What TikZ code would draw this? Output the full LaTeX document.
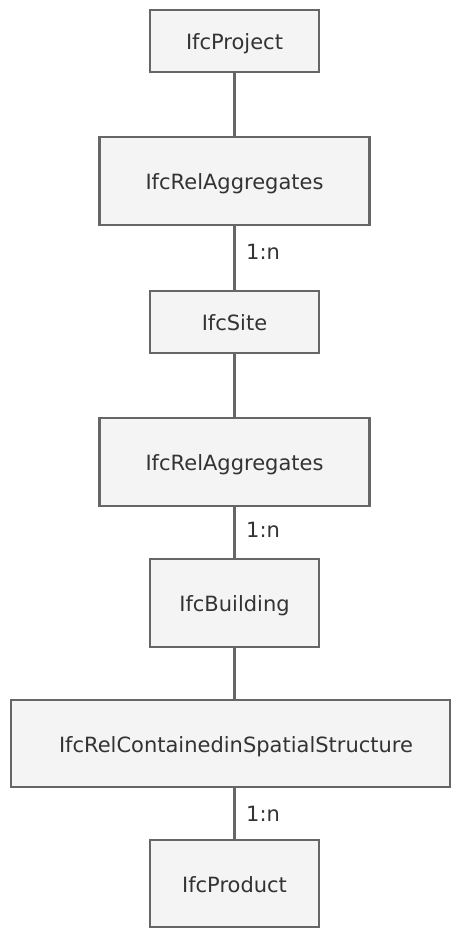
\documentclass[tikz,border=0pt]{standalone}
\usepackage{fontspec}
\setmainfont{DejaVu Sans}
\definecolor{boxfill}{HTML}{F4F4F4}
\definecolor{boxline}{HTML}{666666}
\definecolor{txt}{HTML}{333333}
\begin{document}
\begin{tikzpicture}[x=1pt,y=-1pt,
  entity/.style={draw=boxline,fill=boxfill,line width=2.6pt,inner sep=0pt,
    text height=17.3pt,text depth=0pt,
    text=txt,font=\fontsize{21}{24}\selectfont},
  link/.style={draw=boxline,line width=2.6pt},
  card/.style={anchor=west,inner sep=0pt,text=txt,font=\fontsize{21}{24}\selectfont}]
  \useasboundingbox (0,0) rectangle (452,928);
  \fill[white] (0,0) rectangle (452,928);

  \node[entity,minimum width=169pt,minimum height=62pt] (project) at (234.5,41) {IfcProject};
  \node[entity,minimum width=270pt,minimum height=88pt] (agg1) at (234.5,181) {IfcRelAggregates};
  \node[entity,minimum width=169pt,minimum height=62pt] (site) at (234.5,322) {IfcSite};
  \node[entity,minimum width=270pt,minimum height=88pt] (agg2) at (234.5,462) {IfcRelAggregates};
  \node[entity,minimum width=169pt,minimum height=88pt] (building) at (234.5,603) {IfcBuilding};
  \node[entity,minimum width=439pt,minimum height=87pt] (contained) at (230.5,743.5) {\hspace*{11pt}IfcRelContainedinSpatialStructure};
  \node[entity,minimum width=169pt,minimum height=87pt] (product) at (234.5,883.5) {IfcProduct};

  \draw[link] (project.south) -- (agg1.north);
  \draw[link] (agg1.south) -- (site.north);
  \draw[link] (site.south) -- (agg2.north);
  \draw[link] (agg2.south) -- (building.north);
  \draw[link] (building.south) -- (contained.north -| building.south);
  \draw[link] (contained.south -| product.north) -- (product.north);

  \node[card] (c1) at (246,252) {1:n};
  \node[card] (c2) at (246,530) {1:n};
  \node[card] (c3) at (246,814) {1:n};
\end{tikzpicture}
\end{document}
